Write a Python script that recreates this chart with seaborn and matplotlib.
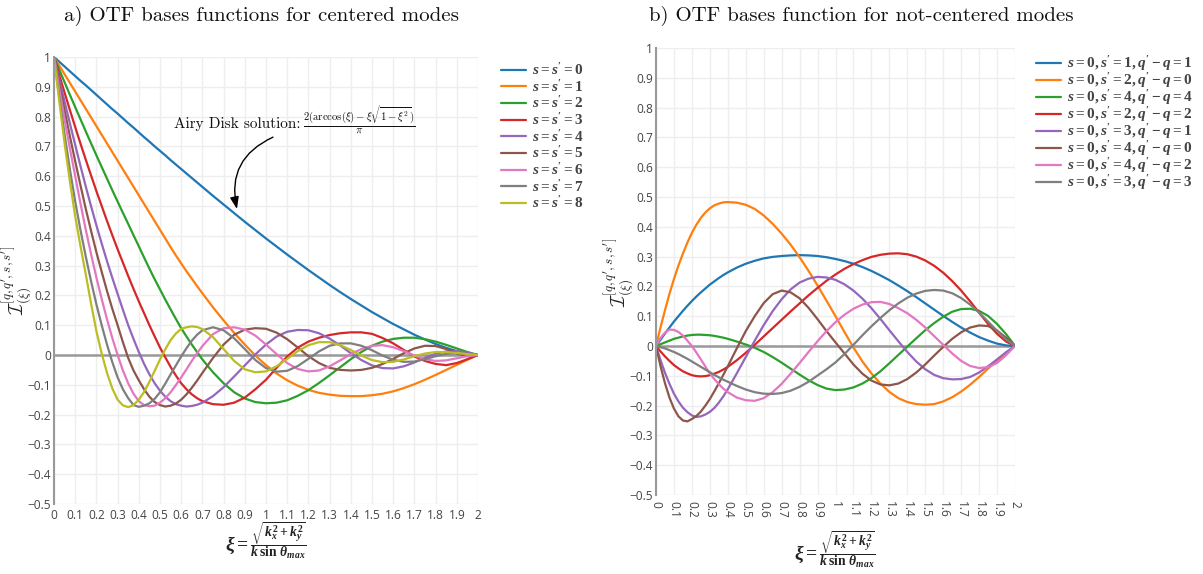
import numpy as np
import pandas as pd
import matplotlib
matplotlib.use("Agg")
import matplotlib.pyplot as plt
import seaborn as sns

# Normalised spatial frequency grids (finer where the curves turn quickly)
xi_a = np.round(np.r_[np.linspace(0.0, 0.675, 28), np.linspace(0.7, 2.0, 27)], 3)
xi_b = np.round(np.r_[np.linspace(0.0, 0.375, 16), np.linspace(0.4, 2.0, 33)], 3)

# ---- a) centered modes, s = s' ----
cen_s0 = [1.000, .984, .968, .952, .936, .920, .905, .889, .873, .857, .841, .825, .810, .794,
          .778, .763, .747, .731, .716, .700, .685, .670, .654, .639, .624, .609, .594, .579,
          .564, .534, .505, .476, .447, .419, .391, .364, .337, .311, .285, .260, .235, .211,
          .188, .166, .144, .124, .104, .086, .068, .052, .037, .024, .013, .005, .000]
cen_s1 = [1.000, .971, .942, .913, .884, .855, .826, .797, .768, .739, .710, .681, .652, .623,
          .594, .565, .536, .507, .478, .449, .420, .391, .362, .334, .307, .281, .256, .231,
          .207, .160, .116, .074, .035, -.002, -.034, -.062, -.085, -.103, -.117, -.127, -.133,
          -.137, -.138, -.138, -.135, -.130, -.122, -.111, -.098, -.083, -.067, -.050, -.033,
          -.016, .000]
cen_s2 = [1.000, .957, .915, .873, .832, .791, .750, .710, .670, .631, .592, .553, .515, .477,
          .440, .402, .365, .327, .290, .254, .220, .186, .153, .121, .090, .062, .035, .010,
          -.015, -.058, -.095, -.125, -.146, -.158, -.162, -.160, -.152, -.137, -.118, -.094,
          -.068, -.041, -.014, .010, .031, .045, .054, .058, .058, .053, .045, .034, .022, .010,
          .000]
cen_s3 = [1.000, .939, .880, .822, .765, .709, .655, .602, .550, .500, .450, .402, .355, .310,
          .265, .222, .180, .140, .100, .062, .025, -.008, -.040, -.069, -.095, -.115, -.132,
          -.145, -.155, -.165, -.167, -.160, -.143, -.115, -.083, -.043, -.005, .025, .045, .058,
          .067, .073, .076, .076, .071, .057, .039, .017, -.005, -.020, -.030, -.034, -.027,
          -.014, .000]
cen_s4 = [1.000, .924, .850, .777, .705, .634, .565, .499, .435, .374, .315, .259, .205, .152,
          .100, .054, .010, -.030, -.065, -.095, -.120, -.140, -.155, -.165, -.170, -.173, -.171,
          -.167, -.160, -.138, -.108, -.072, -.035, .002, .035, .062, .078, .084, .083, .073,
          .055, .032, .006, -.017, -.035, -.044, -.045, -.038, -.025, -.009, .004, .012, .013,
          .008, .000]
cen_s5 = [1.000, .909, .820, .734, .650, .569, .490, .416, .345, .279, .215, .155, .100, .043,
          -.010, -.052, -.085, -.115, -.140, -.158, -.168, -.173, -.170, -.163, -.150, -.132,
          -.110, -.086, -.060, -.010, .035, .068, .085, .090, .088, .075, .053, .025, -.004,
          -.027, -.043, -.050, -.052, -.050, -.043, -.030, -.013, .006, .022, .031, .030, .020,
          .005, -.004, .000]
cen_s6 = [1.000, .893, .790, .693, .600, .508, .420, .338, .260, .188, .120, .057, .000, -.052,
          -.095, -.130, -.155, -.168, -.172, -.170, -.160, -.145, -.125, -.101, -.075, -.048,
          -.020, .006, .030, .070, .090, .093, .085, .065, .035, .003, -.027, -.047, -.055,
          -.052, -.038, -.018, .003, .020, .031, .033, .026, .013, -.002, -.014, -.020, -.018,
          -.011, -.004, .000]
cen_s7 = [1.000, .865, .740, .623, .515, .419, .330, .247, .170, .100, .035, -.024, -.075, -.115,
          -.145, -.168, -.174, -.170, -.162, -.147, -.125, -.096, -.065, -.035, -.005, .023,
          .048, .068, .083, .093, .083, .056, .020, -.017, -.044, -.056, -.053, -.037, -.013,
          .012, .031, .039, .039, .031, .016, -.002, -.016, -.023, -.022, -.014, -.004, .004,
          .006, .004, .000]
cen_s8 = [1.000, .850, .710, .583, .465, .365, .270, .172, .080, .005, -.060, -.112, -.150,
          -.169, -.175, -.168, -.150, -.124, -.090, -.053, -.015, .019, .050, .072, .088, .093,
          .096, .094, .087, .060, .020, -.020, -.048, -.058, -.055, -.038, -.013, .013, .033,
          .043, .043, .033, .017, -.002, -.017, -.024, -.023, -.015, -.004, .005, .010, .010,
          .007, .003, .000]
centered_series = [cen_s0, cen_s1, cen_s2, cen_s3, cen_s4, cen_s5, cen_s6, cen_s7, cen_s8]
centered_labels = [r"$s = s' = 0$", r"$s = s' = 1$", r"$s = s' = 2$",
                   r"$s = s' = 3$", r"$s = s' = 4$", r"$s = s' = 5$",
                   r"$s = s' = 6$", r"$s = s' = 7$", r"$s = s' = 8$"]

# ---- b) not-centered modes ----
nc_1_1 = [0, .021, .042, .062, .082, .100, .118, .135, .151, .166, .180, .193, .206, .217, .228,
          .238, .247, .263, .276, .286, .294, .299, .302, .304, .305, .304, .302, .298, .292,
          .285, .276, .265, .252, .237, .221, .203, .184, .164, .143, .122, .101, .081, .062,
          .045, .030, .018, .008, .002, 0]
nc_2_0 = [0, .062, .120, .175, .225, .270, .310, .347, .380, .407, .430, .448, .462, .472, .478,
          .482, .483, .481, .474, .460, .438, .410, .377, .340, .298, .252, .203, .152, .100,
          .047, -.005, -.052, -.092, -.126, -.154, -.175, -.188, -.195, -.197, -.195, -.186,
          -.172, -.153, -.130, -.104, -.076, -.049, -.023, 0]
nc_4_4 = [0, .006, .012, .018, .024, .028, .032, .035, .037, .038, .038, .037, .036, .034, .031,
          .028, .024, .015, .005, -.006, -.020, -.037, -.056, -.076, -.096, -.115, -.131, -.143,
          -.148, -.146, -.139, -.126, -.108, -.085, -.058, -.030, -.002, .026, .053, .077, .098,
          .115, .124, .125, .118, .101, .074, .040, 0]
nc_2_2 = [0, -.018, -.035, -.050, -.064, -.075, -.085, -.092, -.098, -.101, -.102, -.101, -.098,
          -.093, -.087, -.079, -.070, -.048, -.023, .004, .032, .060, .088, .116, .143, .170,
          .195, .219, .240, .259, .275, .288, .299, .306, .310, .311, .308, .300, .287, .269,
          .246, .218, .186, .150, .112, .074, .041, .015, 0]
nc_3_1 = [0, -.047, -.090, -.127, -.160, -.186, -.207, -.222, -.233, -.238, -.236, -.230, -.221,
          -.208, -.190, -.169, -.145, -.092, -.037, .018, .070, .117, .157, .190, .213, .226,
          .232, .230, .222, .207, .186, .159, .127, .091, .053, .016, -.020, -.052, -.078,
          -.097, -.108, -.112, -.111, -.104, -.089, -.068, -.045, -.021, 0]
nc_4_0 = [0, -.067, -.125, -.173, -.210, -.236, -.250, -.253, -.245, -.235, -.220, -.200, -.178,
          -.152, -.125, -.097, -.068, -.008, .050, .100, .144, .174, .186, .180, .160, .128,
          .090, .050, .012, -.025, -.062, -.093, -.116, -.129, -.132, -.126, -.111, -.089,
          -.062, -.032, -.003, .024, .046, .062, .069, .067, .052, .028, 0]
nc_4_2 = [0, .027, .045, .055, .054, .047, .035, .018, .000, -.022, -.045, -.069, -.092, -.111,
          -.128, -.143, -.155, -.173, -.182, -.184, -.175, -.155, -.127, -.093, -.057, -.020,
          .016, .050, .080, .105, .125, .139, .147, .148, .141, .127, .110, .088, .062, .033,
          .004, -.025, -.050, -.067, -.074, -.071, -.057, -.031, 0]
nc_3_3 = [0, -.004, -.008, -.014, -.020, -.027, -.035, -.043, -.052, -.061, -.070, -.079, -.088,
          -.097, -.105, -.113, -.120, -.134, -.146, -.155, -.160, -.161, -.158, -.150, -.137,
          -.120, -.099, -.078, -.055, -.027, .004, .036, .066, .094, .120, .143, .162, .176,
          .185, .188, .186, .177, .161, .139, .112, .082, .051, .022, 0]
notcentered_series = [nc_1_1, nc_2_0, nc_4_4, nc_2_2, nc_3_1, nc_4_0, nc_4_2, nc_3_3]
notcentered_labels = [r"$s = 0, s' = 1, q' - q = 1$",
                      r"$s = 0, s' = 2, q' - q = 0$",
                      r"$s = 0, s' = 4, q' - q = 4$",
                      r"$s = 0, s' = 2, q' - q = 2$",
                      r"$s = 0, s' = 3, q' - q = 1$",
                      r"$s = 0, s' = 4, q' - q = 0$",
                      r"$s = 0, s' = 4, q' - q = 2$",
                      r"$s = 0, s' = 3, q' - q = 3$"]

titles = ["a) OTF bases functions for centered modes",
          "b) OTF bases function for not-centered modes"]
ylabel = r"$\mathcal{I}^{[q,q',s,s']}_{(\xi)}$"
xlabel = r"$\xi = \frac{\sqrt{k_x^2 + k_y^2}}{k\,\sin\,\theta_{max}}$"

sns.set_theme(style="white")
plt.rcParams.update({
    "font.family": ["Open Sans", "DejaVu Sans"],
    "mathtext.fontset": "custom",
    "mathtext.rm": "Liberation Serif:bold",
    "mathtext.it": "Liberation Serif:italic:bold",
    "mathtext.bf": "Liberation Serif:bold",
    "axes.unicode_minus": True,
})

palette = sns.color_palette("tab10")
TEXT = "#444444"
W, H = 1203, 574


def long_frame(grid, series, labels):
    frames = [pd.DataFrame({"xi": grid, "value": vals, "mode": lab})
              for vals, lab in zip(series, labels)]
    return pd.concat(frames, ignore_index=True)


def fmt(v):
    v = round(float(v), 1)
    if v == 0:
        return "0"
    return ("%g" % v).replace("-", "\u2212")


def style_axes(ax, rotate_x):
    ax.set_xlim(0, 2)
    ax.set_ylim(-0.5, 1)
    xt = np.round(np.arange(0, 2.001, 0.1), 1)
    yt = np.round(np.arange(-0.5, 1.001, 0.1), 1)
    ax.set_xticks(xt)
    ax.set_yticks(yt)
    ax.set_yticklabels([fmt(v) for v in yt])
    if rotate_x:
        ax.set_xticklabels([fmt(v) for v in xt], rotation=-90, va="top", ha="center")
        ax.tick_params(axis="x", pad=4)
    else:
        ax.set_xticklabels([fmt(v) for v in xt])
    ax.set_axisbelow(True)
    ax.grid(True, color="#eeeeee", lw=1)
    ax.axhline(0, color="#999999", lw=1.8, zorder=1.5)
    for sp in ("top", "right", "bottom"):
        ax.spines[sp].set_visible(False)
    ax.spines["left"].set_color("#999999")
    ax.spines["left"].set_linewidth(1.5)
    ax.tick_params(length=0, labelsize=8.6, labelcolor=TEXT)
    ax.tick_params(axis="y", pad=2)
    ax.set_xlabel("")
    ax.set_ylabel("")


fig = plt.figure(figsize=(W / 100, H / 100), dpi=100)
ax_a = fig.add_axes([54 / W, 70 / H, 424 / W, 447 / H])
ax_b = fig.add_axes([656 / W, 79 / H, 359 / W, 447 / H])

for ax, grid, series, labels, rot, leg_xy, spacing in (
        (ax_a, xi_a, centered_series, centered_labels, False, (501, 63), 0.05),
        (ax_b, xi_b, notcentered_series, notcentered_labels, True, (1036, 54), -0.12)):
    df = long_frame(grid, series, labels)
    sns.lineplot(data=df, x="xi", y="value", hue="mode", hue_order=labels,
                 palette=palette[:len(labels)], linewidth=1.6, ax=ax, sort=False,
                 errorbar=None)
    handles, labs = ax.get_legend_handles_labels()
    style_axes(ax, rot)
    leg = ax.legend(handles, labs, loc="upper left",
                    bbox_to_anchor=(leg_xy[0] / W, 1 - leg_xy[1] / H),
                    bbox_transform=fig.transFigure, frameon=False, fontsize=11,
                    handlelength=1.65, handletextpad=0.4, labelspacing=spacing,
                    borderpad=0, borderaxespad=0)
    for t in leg.get_texts():
        t.set_color(TEXT)

# titles
fig.text(262 / W, 1 - 16 / H, titles[0], ha="center", va="center",
         family="cmr10", fontsize=15, color="#111111")
fig.text(861 / W, 1 - 16 / H, titles[1], ha="center", va="center",
         family="cmr10", fontsize=15, color="#111111")

# axis titles
for x, y in ((17, 280), (619, 272)):
    fig.text(x / W, 1 - y / H, ylabel, rotation=90, ha="center", va="center",
             fontsize=13.5, color="#222222", math_fontfamily="cm")
for x, y in ((266, 541), (835, 550)):
    fig.text(x / W, 1 - y / H, xlabel, ha="center", va="center",
             fontsize=14, color="#222222")

# Airy disk note on the s = s' = 0 curve
ax_a.text(0.566, 0.775, "Airy Disk solution:", family="cmr10", fontsize=11,
          ha="left", va="center", color="#111111")
ax_a.text(1.175, 0.785, r"$\frac{2(\arccos(\xi)-\xi\sqrt{1-\xi^2})}{\pi}$",
          math_fontfamily="cm", fontsize=11, ha="left", va="center", color="#111111")
ax_a.annotate("", xy=(0.863, 0.49), xytext=(1.033, 0.731),
              arrowprops=dict(arrowstyle="-|>,head_length=0.6,head_width=0.22",
                              connectionstyle="arc3,rad=0.4", color="black", lw=1,
                              shrinkA=0, shrinkB=0))

fig.savefig("out.png", dpi=100)
